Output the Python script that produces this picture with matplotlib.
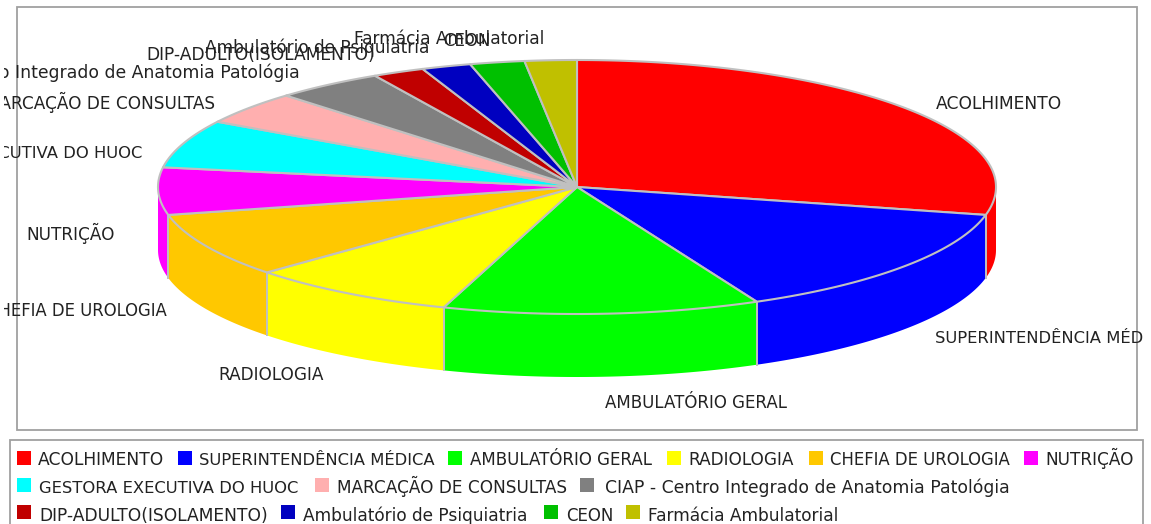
import numpy as np
import matplotlib.pyplot as plt
from matplotlib.patches import Polygon, Rectangle

labels = ["ACOLHIMENTO", "SUPERINTENDÊNCIA MÉDICA", "AMBULATÓRIO GERAL", "RADIOLOGIA",
          "CHEFIA DE UROLOGIA", "NUTRIÇÃO", "GESTORA EXECUTIVA DO HUOC",
          "MARCAÇÃO DE CONSULTAS", "CIAP - Centro Integrado de Anatomia Patológia",
          "DIP-ADULTO(ISOLAMENTO)", "Ambulatório de Psiquiatria", "CEON", "Farmácia Ambulatorial"]
values = [28.5, 14.4, 12.2, 8.1, 8.2, 6.0, 6.1, 4.2, 4.2, 2.0, 1.9, 2.1, 2.0]
colors = ["#ff0000", "#0000ff", "#00ff00", "#ffff00", "#ffc800", "#ff00ff", "#00ffff",
          "#ffafaf", "#808080", "#c00000", "#0000c0", "#00c000", "#c0c000"]

# pie geometry in pixels
cx, cy = 577, 187
rx, ry = 419, 127
depth = 63
edge = "#c0c0c0"
# the original font runs a bit wider on some strings, sizes fitted per label
font_pts = [12.3, 11.8, 12.0, 12.2, 11.9, 12.2, 11.8, 12.15, 12.45, 12.3, 12.25, 12.0, 12.25]


def arc(t1, t2):
    n = max(2, int(abs(t2 - t1) * 2))
    t = np.radians(np.linspace(t1, t2, n))
    return np.column_stack([cx + rx * np.cos(t), cy - ry * np.sin(t)])


fig = plt.figure(figsize=(11.51, 5.24), dpi=100)
ax = fig.add_axes([0, 0, 1, 1])
ax.set_xlim(0, 1151)
ax.set_ylim(524, 0)
ax.axis("off")

ax.add_patch(Rectangle((17, 7), 1120, 423, fc="white", ec="#a0a0a0", lw=1.3))
ax.add_patch(Rectangle((10, 440), 1133, 90, fc="white", ec="#a0a0a0", lw=1.3))

# clockwise from 12 o'clock
ends = 90 - np.cumsum(values) / np.sum(values) * 360
starts = np.concatenate([[90], ends[:-1]])

# side walls, only the part in the front half can be seen
for s, e, c in zip(starts, ends, colors):
    s2 = s if s <= 0 else 0
    e2 = max(e, -180)
    if s2 <= e2:
        continue
    top = arc(s2, e2)
    bottom = top[::-1] + [0, depth]
    ax.add_patch(Polygon(np.vstack([top, bottom]), closed=True, fc=c, ec="none", zorder=2))
    for pos in (s2, e2):
        if -180 < pos < 0:
            p = arc(pos, pos - 1)[0]
            ax.plot([p[0], p[0]], [p[1], p[1] + depth], color=edge, lw=1.3, zorder=3)

# top face
for s, e, c in zip(starts, ends, colors):
    pts = np.vstack([[cx, cy], arc(s, e)])
    ax.add_patch(Polygon(pts, closed=True, fc=c, ec=edge, lw=1.5, zorder=4, joinstyle="round"))

clip = Rectangle((4, 0), 1140, 524, transform=ax.transData)

# slice labels: x, baseline y, alignment
label_pos = [(936, 109, "left"), (935, 343, "left"), (605, 408, "left"), (218, 380, "left"),
             (167, 316, "right"), (26, 240, "left"), (142, 158, "right"), (215, 109, "right"),
             (300, 78, "right"), (146, 60, "left"), (205, 53, "left"), (443, 46, "left"),
             (354, 44, "left")]
for name, size, (x, y, ha) in zip(labels, font_pts, label_pos):
    t = ax.text(x, y, name, ha=ha, va="baseline", fontsize=size, color="#222222", zorder=6)
    t.set_clip_path(clip)
    t.set_clip_on(True)

# legend rows
swatch_x = [17, 178, 448, 667, 809, 1024, 17, 315, 580, 17, 281, 544, 626]
text_x = [38, 199, 470, 688, 830, 1045, 39, 337, 605, 39, 303, 566, 648]
swatch_y = [458] * 6 + [485] * 3 + [512] * 4
base_y = [465] * 6 + [493] * 3 + [521] * 4
for name, c, size, sx, tx, sy, by in zip(labels, colors, font_pts, swatch_x, text_x, swatch_y, base_y):
    ax.add_patch(Rectangle((sx, sy - 7), 14, 14, fc=c, ec="none", zorder=5))
    ax.text(tx, by, name, ha="left", va="baseline", fontsize=size, color="#222222", zorder=6)

fig.savefig("out.png", dpi=100)
